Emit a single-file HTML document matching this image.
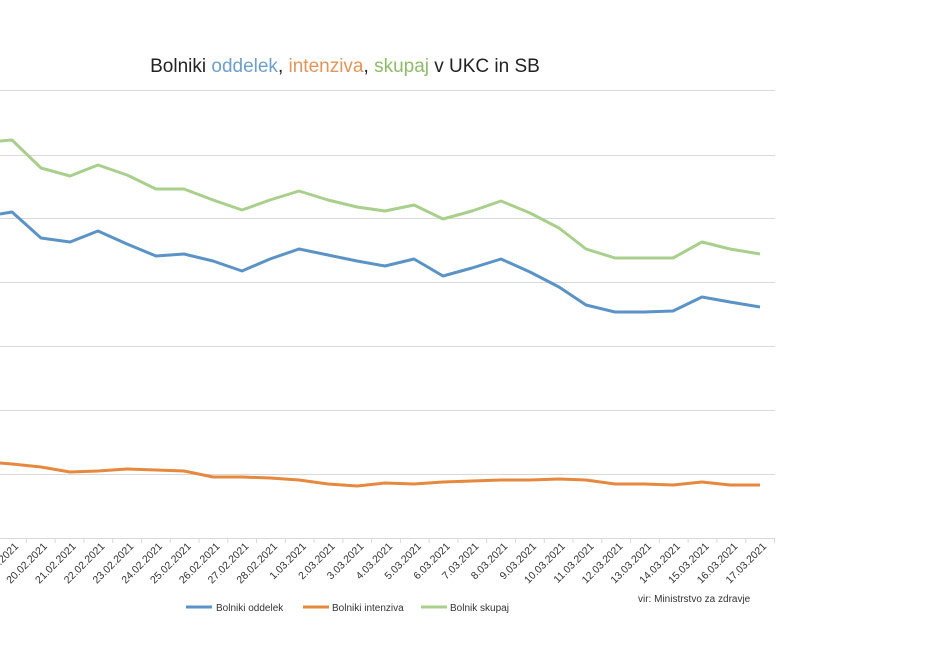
<!DOCTYPE html>
<html><head><meta charset="utf-8"><style>
html,body{margin:0;padding:0;background:#fff;}
svg{display:block;font-family:"Liberation Sans",Calibri,sans-serif;}
</style></head><body>
<svg width="930" height="670" viewBox="0 0 930 670" xmlns="http://www.w3.org/2000/svg">
<g stroke="#d9d9d9" stroke-width="1">
<line x1="0" y1="90.5" x2="775" y2="90.5"/>
<line x1="0" y1="155.5" x2="775" y2="155.5"/>
<line x1="0" y1="218.5" x2="775" y2="218.5"/>
<line x1="0" y1="282.5" x2="775" y2="282.5"/>
<line x1="0" y1="346.5" x2="775" y2="346.5"/>
<line x1="0" y1="410.5" x2="775" y2="410.5"/>
<line x1="0" y1="474.5" x2="775" y2="474.5"/>
<line x1="0" y1="538.5" x2="775" y2="538.5"/>
</g>
<g stroke="#d9d9d9" stroke-width="1">
<line x1="26.4" y1="538" x2="26.4" y2="543"/><line x1="55.2" y1="538" x2="55.2" y2="543"/><line x1="83.9" y1="538" x2="83.9" y2="543"/><line x1="112.7" y1="538" x2="112.7" y2="543"/><line x1="141.5" y1="538" x2="141.5" y2="543"/><line x1="170.3" y1="538" x2="170.3" y2="543"/><line x1="199" y1="538" x2="199" y2="543"/><line x1="227.8" y1="538" x2="227.8" y2="543"/><line x1="256.6" y1="538" x2="256.6" y2="543"/><line x1="285.3" y1="538" x2="285.3" y2="543"/><line x1="314.1" y1="538" x2="314.1" y2="543"/><line x1="342.9" y1="538" x2="342.9" y2="543"/><line x1="371.6" y1="538" x2="371.6" y2="543"/><line x1="400.4" y1="538" x2="400.4" y2="543"/><line x1="429.2" y1="538" x2="429.2" y2="543"/><line x1="458" y1="538" x2="458" y2="543"/><line x1="486.7" y1="538" x2="486.7" y2="543"/><line x1="515.5" y1="538" x2="515.5" y2="543"/><line x1="544.3" y1="538" x2="544.3" y2="543"/><line x1="573" y1="538" x2="573" y2="543"/><line x1="601.8" y1="538" x2="601.8" y2="543"/><line x1="630.6" y1="538" x2="630.6" y2="543"/><line x1="659.3" y1="538" x2="659.3" y2="543"/><line x1="688.1" y1="538" x2="688.1" y2="543"/><line x1="716.9" y1="538" x2="716.9" y2="543"/><line x1="745.7" y1="538" x2="745.7" y2="543"/><line x1="774.4" y1="538" x2="774.4" y2="543"/>
</g>
<text x="345" y="72" font-size="19" text-anchor="middle" fill="#222"><tspan>Bolniki </tspan><tspan fill="#6f9fc9">oddelek</tspan><tspan>, </tspan><tspan fill="#e0955a">intenziva</tspan><tspan>, </tspan><tspan fill="#8fba6b">skupaj</tspan><tspan> v UKC  in SB</tspan></text>
<polyline fill="none" stroke="#a9cf8c" stroke-width="3" stroke-linejoin="round" points="0,141 12,140 41,168 70,176 98,165 127,175 156,189 184,189 213,200 242,210 270,200 299,191 328,200 357,207 385,211 414,205 443,219 472,211 501,201 530,213 559,228 586,249 615,258 644,258 673,258 702,242 730,249 760,254"/>
<polyline fill="none" stroke="#5b93c6" stroke-width="3" stroke-linejoin="round" points="0,214 12,212 41,238 70,242 98,231 127,244 156,256 184,254 213,261 242,271 270,259 299,249 328,255 357,261 385,266 414,259 443,276 472,268 501,259 530,272 559,287 586,305 615,312 644,312 673,311 702,297 730,302 760,307"/>
<polyline fill="none" stroke="#e6883e" stroke-width="3" stroke-linejoin="round" points="0,463 12,464 41,467 70,472 98,471 127,469 156,470 184,471 213,477 242,477 270,478 299,480 328,484 357,486 385,483 414,484 443,482 472,481 501,480 530,480 559,479 586,480 615,484 644,484 673,485 702,482 730,485 760,485"/>
<g font-size="10.5" fill="#333" text-anchor="end">
<text transform="translate(19,547) rotate(-45)">19.02.2021</text>
<text transform="translate(47.8,547) rotate(-45)">20.02.2021</text>
<text transform="translate(76.5,547) rotate(-45)">21.02.2021</text>
<text transform="translate(105.3,547) rotate(-45)">22.02.2021</text>
<text transform="translate(134.1,547) rotate(-45)">23.02.2021</text>
<text transform="translate(162.9,547) rotate(-45)">24.02.2021</text>
<text transform="translate(191.6,547) rotate(-45)">25.02.2021</text>
<text transform="translate(220.4,547) rotate(-45)">26.02.2021</text>
<text transform="translate(249.2,547) rotate(-45)">27.02.2021</text>
<text transform="translate(277.9,547) rotate(-45)">28.02.2021</text>
<text transform="translate(306.7,547) rotate(-45)">1.03.2021</text>
<text transform="translate(335.5,547) rotate(-45)">2.03.2021</text>
<text transform="translate(364.2,547) rotate(-45)">3.03.2021</text>
<text transform="translate(393,547) rotate(-45)">4.03.2021</text>
<text transform="translate(421.8,547) rotate(-45)">5.03.2021</text>
<text transform="translate(450.6,547) rotate(-45)">6.03.2021</text>
<text transform="translate(479.3,547) rotate(-45)">7.03.2021</text>
<text transform="translate(508.1,547) rotate(-45)">8.03.2021</text>
<text transform="translate(536.9,547) rotate(-45)">9.03.2021</text>
<text transform="translate(565.6,547) rotate(-45)">10.03.2021</text>
<text transform="translate(594.4,547) rotate(-45)">11.03.2021</text>
<text transform="translate(623.2,547) rotate(-45)">12.03.2021</text>
<text transform="translate(651.9,547) rotate(-45)">13.03.2021</text>
<text transform="translate(680.7,547) rotate(-45)">14.03.2021</text>
<text transform="translate(709.5,547) rotate(-45)">15.03.2021</text>
<text transform="translate(738.3,547) rotate(-45)">16.03.2021</text>
<text transform="translate(767,547) rotate(-45)">17.03.2021</text>
</g>
<line x1="186" y1="607" x2="212" y2="607" stroke="#5b93c6" stroke-width="3"/>
<text x="216" y="611" font-size="10" fill="#333">Bolniki oddelek</text>
<line x1="303" y1="607" x2="329" y2="607" stroke="#e6883e" stroke-width="3"/>
<text x="332" y="611" font-size="10" fill="#333">Bolniki intenziva</text>
<line x1="421" y1="607" x2="447" y2="607" stroke="#a9cf8c" stroke-width="3"/>
<text x="450" y="611" font-size="10" fill="#333">Bolnik skupaj</text>
<text x="638" y="602" font-size="10" fill="#333">vir: Ministrstvo za zdravje</text>
</svg>
</body></html>
